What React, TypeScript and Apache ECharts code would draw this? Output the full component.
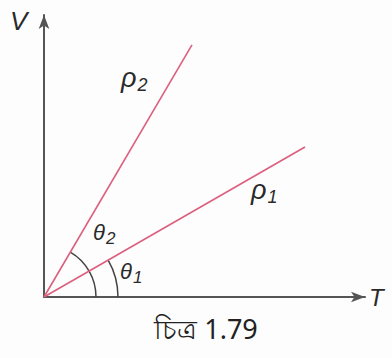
import React, { useEffect, useRef } from "react";
import * as echarts from "echarts";

// Line endpoints (data units, origin at 0,0)
const rho1End = [8.13, 5.32];
const rho2End = [4.61, 8.94];
const lineLabels = ["ρ1", "ρ2"];
const angleLabels = ["θ1", "θ2"];
const axisNames = ["T", "V"];
const caption = "চিত্র 1.79";

export default function App() {
  const ref = useRef<HTMLDivElement>(null);
  useEffect(() => {
    document.body.style.margin = "0";
    const chart = echarts.init(ref.current!, null, { renderer: "svg" });
    const lineColor = "#dc5f7f";
    const axisColor = "#555";
    const arcRadii = [74, 52];
    const greek = "Liberation Sans";
    const sym = (main: string, sub: string, fs: number, ss: number) => ({
      text: `{m|${main}}{s|${sub}}`,
      rich: {
        m: { fontSize: fs, fontStyle: "italic", fontFamily: greek, fill: "#2a2a2a", padding: [0, 1, 0, 0] },
        s: { fontSize: ss, fontStyle: "italic", fontFamily: greek, fill: "#2a2a2a", verticalAlign: "bottom", padding: [ss * 0.7, 0, 0, 0] },
      },
    });
    chart.setOption({
      animation: false,
      backgroundColor: "#fdfdfd",
      grid: { left: 44, right: 27, top: 15, bottom: 61 },
      xAxis: {
        type: "value", min: 0, max: 10,
        axisLine: { show: true, lineStyle: { color: axisColor, width: 2 }, symbol: ["none", "arrow"], symbolSize: [8, 14] },
        axisTick: { show: false }, axisLabel: { show: false }, splitLine: { show: false },
        name: axisNames[0], nameLocation: "end", nameGap: 4,
        nameTextStyle: { fontSize: 24, fontStyle: "italic", fontFamily: greek, color: "#2a2a2a", verticalAlign: "middle" },
      },
      yAxis: {
        type: "value", min: 0, max: 10,
        axisLine: { show: true, lineStyle: { color: axisColor, width: 2 }, symbol: ["none", "arrow"], symbolSize: [8, 14] },
        axisTick: { show: false }, axisLabel: { show: false }, splitLine: { show: false },
      },
      series: [
        {
          type: "line", name: lineLabels[0], data: [[0, 0], rho1End], symbol: "none",
          lineStyle: { color: lineColor, width: 1.6 },
        },
        {
          type: "line", name: lineLabels[1], data: [[0, 0], rho2End], symbol: "none",
          lineStyle: { color: lineColor, width: 1.6 },
        },
        {
          type: "custom",
          data: [rho1End, rho2End],
          renderItem: (params: any, api: any) => {
            const o = api.coord([0, 0]);
            const e = api.coord([api.value(0), api.value(1)]);
            const ang = Math.atan2(-(e[1] - o[1]), e[0] - o[0]);
            return {
              type: "arc",
              shape: { cx: o[0], cy: o[1], r: arcRadii[params.dataIndex], startAngle: -ang, endAngle: 0, clockwise: true },
              style: { stroke: "#444", fill: null, lineWidth: 1.5 },
            };
          },
        },
      ],
      graphic: [
        { type: "text", left: 10, top: 8, style: { text: axisNames[1], fontSize: 26, fontStyle: "italic", fontFamily: greek, fill: "#2a2a2a" } },
        { type: "text", x: 121, y: 63, style: sym("ρ", "2", 27, 18) },
        { type: "text", x: 251, y: 175, style: sym("ρ", "1", 27, 18) },
        { type: "text", x: 93, y: 218, style: sym("θ", "2", 22, 17) },
        { type: "text", x: 120, y: 257, style: sym("θ", "1", 22, 17) },
        { type: "text", x: 206, y: 328, style: { text: caption, fontSize: 27, fontFamily: "Noto Sans, DejaVu Sans, sans-serif", fill: "#222", align: "center", verticalAlign: "middle" } },
      ],
    });
    return () => chart.dispose();
  }, []);
  return <div ref={ref} style={{ width: 392, height: 358 }} />;
}
